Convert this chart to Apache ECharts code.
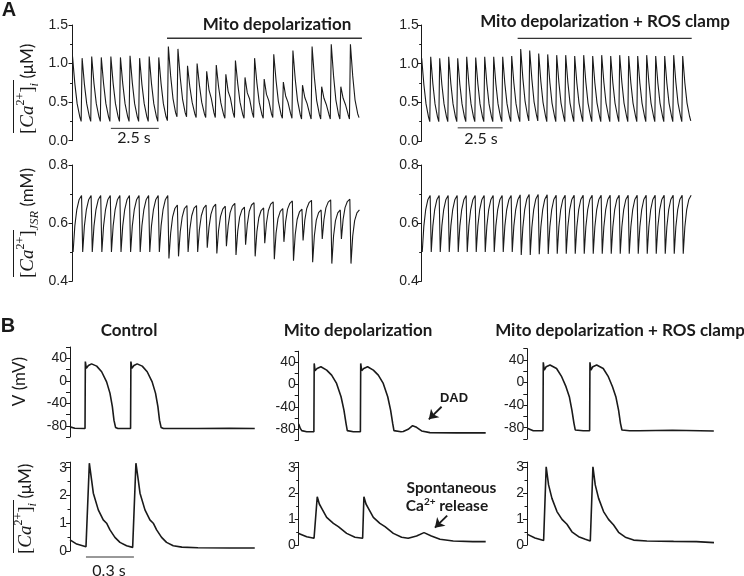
<!DOCTYPE html>
<html><head><meta charset="utf-8">
<script src="https://cdn.jsdelivr.net/npm/echarts@6/dist/echarts.min.js"></script>
<style>html,body{margin:0;padding:0;background:#fff}#c{width:744px;height:576px}</style>
</head><body><div id="c"></div>
<script>
// ---------------- Panel A data (2 Hz pacing, one row per beat) ----------------
const beatPeriod = 0.5;                       // s
const caOffsets  = [0, 0.12, 0.24, 0.38, 0.45];   // sample times after each Ca peak (s)
const jsrOffsets = [0.03, 0.12, 0.22, 0.34, 0.47]; // sample times after each release (s)

// [Ca2+]i (uM): [peak, +0.12s, +0.24s, +0.38s, trough]
const caiMitoRows = [
  [1.09,0.74,0.48,0.31,0.25],[1.07,0.73,0.48,0.31,0.25],[1.09,0.74,0.48,0.31,0.25],
  [1.08,0.74,0.48,0.31,0.25],[1.09,0.74,0.48,0.31,0.25],[1.08,0.74,0.48,0.31,0.25],
  [1.10,0.75,0.48,0.31,0.25],[1.07,0.73,0.48,0.31,0.25],[1.09,0.74,0.48,0.31,0.25],
  [1.08,0.74,0.48,0.31,0.26],
  [1.22,0.84,0.55,0.36,0.31],[1.19,0.82,0.54,0.36,0.31],[0.97,0.70,0.50,0.35,0.30],
  [1.00,0.72,0.50,0.35,0.30],[0.90,0.66,0.55,0.36,0.30],[0.98,0.70,0.49,0.34,0.29],
  [0.86,0.64,0.55,0.36,0.30],[1.04,0.74,0.50,0.34,0.29],[0.82,0.62,0.54,0.36,0.30],
  [1.07,0.75,0.50,0.34,0.29],[0.80,0.60,0.52,0.35,0.30],[1.12,0.78,0.51,0.34,0.29],
  [0.76,0.58,0.50,0.35,0.29],[1.17,0.80,0.52,0.34,0.28],[0.72,0.56,0.48,0.34,0.28],
  [1.22,0.82,0.52,0.34,0.28],[0.70,0.55,0.47,0.34,0.28],[1.25,0.84,0.53,0.34,0.28],
  [0.70,0.55,0.47,0.34,0.28],[1.25,0.84,0.53,0.35,0.30]
];
const caiRosRows = [
  [1.07,0.73,0.48,0.31,0.25],[1.09,0.74,0.48,0.31,0.25],[1.07,0.73,0.48,0.31,0.25],
  [1.09,0.74,0.48,0.31,0.25],[1.07,0.73,0.48,0.31,0.25],[1.09,0.74,0.48,0.31,0.25],
  [1.08,0.74,0.48,0.31,0.25],[1.09,0.74,0.48,0.31,0.25],[1.09,0.74,0.48,0.31,0.25],
  [1.09,0.74,0.48,0.31,0.25],[1.10,0.75,0.48,0.31,0.25],
  [1.19,0.81,0.52,0.33,0.26],[1.17,0.80,0.51,0.33,0.26],[1.13,0.77,0.50,0.32,0.25],
  [1.12,0.76,0.49,0.32,0.25],[1.11,0.76,0.49,0.32,0.25],[1.11,0.76,0.49,0.32,0.25],
  [1.10,0.75,0.49,0.32,0.25],[1.11,0.76,0.49,0.32,0.25],[1.10,0.75,0.49,0.32,0.25],
  [1.11,0.76,0.49,0.32,0.25],[1.10,0.75,0.49,0.32,0.25],[1.11,0.76,0.49,0.32,0.25],
  [1.10,0.75,0.49,0.32,0.25],[1.10,0.75,0.49,0.32,0.25],[1.11,0.76,0.49,0.32,0.25],
  [1.10,0.75,0.49,0.32,0.25],[1.10,0.75,0.49,0.32,0.25],[1.11,0.76,0.49,0.32,0.25],
  [1.10,0.75,0.49,0.32,0.26]
];
// [Ca2+]JSR (mM): [min, +0.12s, +0.22s, +0.34s, max before next release]
const jsrMitoRows = [
  [0.50,0.59,0.645,0.68,0.695],[0.50,0.59,0.645,0.68,0.695],[0.50,0.59,0.645,0.68,0.695],
  [0.50,0.59,0.645,0.68,0.695],[0.50,0.59,0.645,0.68,0.695],[0.50,0.59,0.645,0.68,0.695],
  [0.50,0.59,0.645,0.68,0.695],[0.50,0.59,0.645,0.68,0.695],[0.50,0.59,0.645,0.68,0.695],
  [0.50,0.59,0.645,0.68,0.695],
  [0.478,0.565,0.62,0.65,0.662],[0.485,0.57,0.62,0.65,0.66],[0.50,0.578,0.625,0.651,0.66],
  [0.50,0.578,0.625,0.651,0.662],[0.515,0.585,0.63,0.655,0.665],[0.495,0.575,0.622,0.648,0.658],
  [0.52,0.59,0.635,0.658,0.668],[0.49,0.572,0.62,0.645,0.655],[0.525,0.595,0.64,0.662,0.67],
  [0.485,0.57,0.618,0.643,0.652],[0.53,0.60,0.643,0.665,0.673],[0.475,0.565,0.615,0.64,0.65],
  [0.535,0.605,0.648,0.668,0.676],[0.47,0.56,0.612,0.638,0.648],[0.54,0.61,0.65,0.67,0.678],
  [0.465,0.557,0.61,0.636,0.645],[0.545,0.612,0.652,0.672,0.68],[0.46,0.555,0.608,0.635,0.645],
  [0.545,0.613,0.653,0.674,0.682],[0.46,0.555,0.608,0.635,0.645]
];
const jsrRosRows = [
  [0.50,0.59,0.645,0.68,0.695],[0.50,0.59,0.645,0.68,0.695],[0.50,0.59,0.645,0.68,0.695],
  [0.50,0.59,0.645,0.68,0.695],[0.50,0.59,0.645,0.68,0.695],[0.50,0.59,0.645,0.68,0.695],
  [0.50,0.59,0.645,0.68,0.695],[0.50,0.59,0.645,0.68,0.695],[0.50,0.59,0.645,0.68,0.695],
  [0.50,0.59,0.645,0.68,0.695],[0.50,0.59,0.645,0.68,0.697],
  [0.49,0.585,0.645,0.683,0.698],[0.49,0.585,0.645,0.683,0.698],[0.492,0.586,0.645,0.682,0.697],
  [0.493,0.587,0.645,0.681,0.696],[0.494,0.587,0.645,0.681,0.696],[0.494,0.587,0.645,0.681,0.696],
  [0.494,0.587,0.645,0.681,0.696],[0.494,0.587,0.645,0.681,0.696],[0.494,0.587,0.645,0.681,0.696],
  [0.494,0.587,0.645,0.681,0.696],[0.494,0.587,0.645,0.681,0.696],[0.494,0.587,0.645,0.681,0.696],
  [0.494,0.587,0.645,0.681,0.696],[0.494,0.587,0.645,0.681,0.696],[0.494,0.587,0.645,0.681,0.696],
  [0.494,0.587,0.645,0.681,0.696],[0.494,0.587,0.645,0.681,0.696],[0.494,0.587,0.645,0.681,0.696],
  [0.494,0.587,0.645,0.681,0.696]
];
const mitoBarLeft  = [4.93, 15.1];   // s, "Mito depolarization" period
const mitoBarRight = [5.33, 15.0];
const scaleBarA    = [2.0, 4.5];     // 2.5 s
const scaleBarB    = [0.1, 0.4];     // 0.3 s

// ---------------- Panel B data: [t (s), value] ----------------
const ctrlV = [[0,-82],[0.03,-84.5],[0.094,-85],[0.096,34],[0.102,22],[0.115,27],[0.135,30],[0.167,26],[0.198,16],[0.229,-2],[0.25,-22],[0.265,-46],[0.275,-70],[0.285,-83],[0.3,-85],[0.379,-85],[0.381,34],[0.387,22],[0.4,27],[0.42,30],[0.452,26],[0.483,16],[0.514,-2],[0.535,-22],[0.55,-46],[0.56,-70],[0.57,-83],[0.585,-85],[0.8,-84.8],[1.0,-84.5],[1.156,-85]];
const mitoV = [[0,-71],[0.01,-79],[0.019,-83],[0.05,-85],[0.095,-85],[0.097,38],[0.102,25],[0.115,29],[0.139,32],[0.175,26],[0.206,17],[0.237,2],[0.265,-22],[0.283,-46],[0.296,-70],[0.304,-83],[0.342,-85],[0.386,-85],[0.388,38],[0.394,25],[0.407,29],[0.431,32],[0.467,26],[0.498,17],[0.529,2],[0.557,-22],[0.575,-46],[0.588,-70],[0.596,-83],[0.64,-85],[0.654,-84.5],[0.685,-80.5],[0.7125,-74],[0.7375,-77],[0.769,-83.5],[0.821,-86.5],[0.988,-87],[1.17,-87]];
const rosV = [[0,-81],[0.0375,-85.5],[0.098,-85.5],[0.1,36],[0.106,22],[0.118,28],[0.142,31],[0.183,25],[0.215,10.4],[0.242,-7.3],[0.263,-25],[0.279,-48.7],[0.292,-72.3],[0.3,-84],[0.35,-85.5],[0.39,-85.5],[0.392,36],[0.398,22],[0.41,28],[0.434,31],[0.475,25],[0.507,10.4],[0.533,-7.3],[0.554,-25],[0.571,-48.7],[0.583,-72.3],[0.592,-84],[0.64,-85.5],[0.7,-85.5],[0.908,-84.5],[1.167,-85.8]];
const ctrlCa = [[0,0.40],[0.042,0.25],[0.1,0.155],[0.121,3.16],[0.135,2.56],[0.146,2.08],[0.177,1.48],[0.208,1.12],[0.229,1.0],[0.25,0.76],[0.281,0.49],[0.3125,0.31],[0.354,0.19],[0.392,0.13],[0.4125,3.16],[0.427,2.56],[0.438,2.08],[0.469,1.48],[0.5,1.12],[0.521,1.0],[0.542,0.76],[0.573,0.49],[0.604,0.31],[0.646,0.19],[0.7,0.14],[0.8,0.115],[1.0,0.11],[1.156,0.11]];
const mitoCa = [[0,0.45],[0.05,0.32],[0.096,0.26],[0.116,1.87],[0.129,1.59],[0.144,1.42],[0.175,1.07],[0.217,0.84],[0.248,0.71],[0.3,0.45],[0.352,0.3],[0.4,0.26],[0.408,1.87],[0.421,1.59],[0.436,1.42],[0.467,1.07],[0.508,0.84],[0.54,0.71],[0.592,0.45],[0.644,0.3],[0.685,0.26],[0.7375,0.35],[0.784,0.48],[0.83,0.35],[0.884,0.22],[0.967,0.155],[1.09,0.13],[1.17,0.13]];
const rosCa = [[0,0.42],[0.05,0.27],[0.104,0.17],[0.12,3.02],[0.135,2.32],[0.156,1.8],[0.1875,1.29],[0.219,0.99],[0.25,0.8],[0.281,0.51],[0.323,0.32],[0.365,0.22],[0.396,0.155],[0.4125,3.02],[0.427,2.32],[0.448,1.8],[0.479,1.29],[0.51,0.99],[0.542,0.77],[0.573,0.49],[0.615,0.3],[0.667,0.19],[0.75,0.155],[0.917,0.14],[1.06,0.13],[1.17,0.09]];
const dadArrow  = [[0.894,-40],[0.814,-62.6]];
const sponArrow = [[0.929,1.137],[0.852,0.671]];

// ---------------- build ----------------
function beatsToPoints(rows, offsets) {
  const pts = [];
  rows.forEach((row, k) => row.forEach((v, j) => pts.push([k * beatPeriod + offsets[j], v])));
  return pts;
}
const INK = '#1a1a1a';
const grids = [
  {left:71,    top:25,    width:289, height:115.7},
  {left:421.7, top:25,    width:270, height:116},
  {left:71,    top:165,   width:289, height:116},
  {left:421.7, top:165,   width:270, height:116},
  {left:70,    top:347,   width:187, height:90},
  {left:298.7, top:351.2, width:187, height:88.9},
  {left:527.3, top:348.7, width:187, height:90.3},
  {left:70,    top:462.1, width:187, height:88.9},
  {left:298.7, top:462.5, width:187, height:82.5},
  {left:527,   top:462.1, width:187, height:82.9}
].map(g => Object.assign({outerBoundsMode:'none', containLabel:false}, g));

const xRanges = [[-0.08,15],[0,15],[-0.08,15],[0,15],[0,1.17],[0,1.17],[0,1.17],[0,1.17],[0,1.17],[0,1.17]];
const xAxes = xRanges.map((r,i) => ({type:'value', gridIndex:i, min:r[0], max:r[1], show:false}));

function yAx(i, min, max, interval, fmt, minor) {
  return {
    type:'value', gridIndex:i, min, max, interval,
    axisLine:{show:true, lineStyle:{color:INK, width:1}},
    axisTick:{show:true, length:4, lineStyle:{color:INK, width:1}},
    minorTick: minor ? {show:true, splitNumber:2, length:2.5, lineStyle:{color:INK, width:1}} : {show:false},
    splitLine:{show:false}, minorSplitLine:{show:false},
    axisLabel:{color:'#222', fontFamily:'Liberation Sans', fontSize:14, margin:3, formatter:fmt}
  };
}
const f1 = v => v.toFixed(1);
const fV = v => (Math.round(v) % 40 === 0 ? String(Math.round(v)) : '');
const fI = v => String(Math.round(v));
const yAxes = [
  yAx(0, 0, 1.5, 0.5, f1, true), yAx(1, 0, 1.5, 0.5, f1, true),
  yAx(2, 0.4, 0.8, 0.2, f1, true), yAx(3, 0.4, 0.8, 0.2, f1, true),
  yAx(4, -100, 60, 20, fV, false), yAx(5, -100, 60, 20, fV, false), yAx(6, -100, 60, 20, fV, false),
  yAx(7, 0, 3.2, 1, fI, true), yAx(8, 0, 3.2, 1, fI, true), yAx(9, 0, 3.2, 1, fI, true)
];

function trace(i, data, w) {
  return {type:'line', xAxisIndex:i, yAxisIndex:i, data, showSymbol:false, symbol:'none',
    lineStyle:{color:INK, width:w}, silent:true, animation:false, clip:false, z:3};
}
function bar(i, xs, y, w) {
  return {type:'line', xAxisIndex:i, yAxisIndex:i, data:[[xs[0], y],[xs[1], y]], showSymbol:false,
    symbol:'none', lineStyle:{color:'#333', width:w}, silent:true, animation:false, clip:false};
}
function arrow(pts) {
  return {silent:true, symbol:['none','arrow'], symbolSize:9, animation:false,
    lineStyle:{type:'solid', color:INK, width:1.8}, label:{show:false},
    data:[[{coord:pts[0]},{coord:pts[1]}]]};
}

const series = [
  trace(0, beatsToPoints(caiMitoRows, caOffsets), 1.1),
  trace(1, beatsToPoints(caiRosRows, caOffsets), 1.1),
  trace(2, beatsToPoints(jsrMitoRows, jsrOffsets), 1.1),
  trace(3, beatsToPoints(jsrRosRows, jsrOffsets), 1.1),
  bar(0, mitoBarLeft, 1.328, 1.3), bar(1, mitoBarRight, 1.328, 1.3),
  bar(0, scaleBarA, 0.16, 1), bar(1, scaleBarA, 0.17, 1),
  trace(4, ctrlV, 1.6),
  Object.assign(trace(5, mitoV, 1.6), {markLine: arrow(dadArrow)}),
  trace(6, rosV, 1.6),
  trace(7, ctrlCa, 1.6),
  Object.assign(trace(8, mitoCa, 1.6), {markLine: arrow(sponArrow)}),
  trace(9, rosCa, 1.6),
  bar(7, scaleBarB, -0.216, 1)
];

// ---------------- text ----------------
const SER = 'Liberation Serif', SAN = 'Lato';
function richY() {
  return {
    br:{fontFamily:SER, fontSize:19, lineHeight:26, fill:INK},
    it:{fontFamily:SER, fontStyle:'italic', fontSize:19, lineHeight:26, fill:INK},
    sup:{fontFamily:SER, fontSize:12, lineHeight:15, verticalAlign:'top', fill:INK},
    sub:{fontFamily:SER, fontStyle:'italic', fontSize:12.5, lineHeight:12, verticalAlign:'bottom', fill:INK},
    u:{fontFamily:SAN, fontSize:17, lineHeight:26, fill:INK}
  };
}
function vTitle(x, y, text) {
  return {type:'text', x, y, rotation:Math.PI/2, silent:true,
    style:{text, rich:richY(), align:'left', verticalAlign:'middle', fill:INK}};
}
function hText(x, y, text, size, weight, family) {
  return {type:'text', x, y, silent:true,
    style:{text, fontSize:size, fontWeight:weight||'normal', fontFamily:family||SAN,
      align:'center', verticalAlign:'middle', fill:INK}};
}
function oline(x, y1, y2) {
  return {type:'line', silent:true, shape:{x1:x, y1, x2:x, y2}, style:{stroke:INK, lineWidth:1}};
}
const graphic = [
  hText(9, 10, 'A', 20, 'bold', 'Liberation Sans'),
  hText(8, 326, 'B', 20, 'bold', 'Liberation Sans'),
  hText(277, 25, 'Mito depolarization', 17, 'bold'),
  hText(605, 22, 'Mito depolarization + ROS clamp', 17, 'bold'),
  hText(134, 137.5, '2.5 s', 16),
  hText(481, 139, '2.5 s', 16),
  hText(129, 331, 'Control', 17, 'bold'),
  hText(358, 331, 'Mito depolarization', 17, 'bold'),
  hText(620, 331, 'Mito depolarization + ROS clamp', 17, 'bold'),
  hText(454, 398.5, 'DAD', 13, 'bold', 'Liberation Sans'),
  hText(451.5, 488, 'Spontaneous', 15.5, 'bold'),
  {type:'text', x:447, y:506, silent:true, style:{text:'{b|Ca}{s|2+}{b| release}', align:'center', verticalAlign:'middle', fill:INK,
    rich:{b:{fontFamily:SAN, fontWeight:'bold', fontSize:15.5, lineHeight:19, fill:INK},
          s:{fontFamily:SAN, fontWeight:'bold', fontSize:10, lineHeight:11, verticalAlign:'top', fill:INK}}}},
  hText(109, 571, '0.3 s', 16),
  vTitle(28, 134, '{br|[}{it|Ca}{sup|2+}{br|]}{sub|i}{u| (μM)}'),
  vTitle(28, 278, '{br|[}{it|Ca}{sup|2+}{br|]}{sub|JSR}{u| (mM)}'),
  {type:'text', x:20, y:381.5, rotation:Math.PI/2, silent:true,
    style:{text:'V (mV)', fontFamily:SAN, fontSize:17, align:'center', verticalAlign:'middle', fill:INK}},
  vTitle(26, 554, '{br|[}{it|Ca}{sup|2+}{br|]}{sub|i}{u| (μM)}'),
  oline(13.5, 80, 133), oline(13.5, 230, 277), oline(13.5, 500, 553)
];

const chart = echarts.init(document.getElementById('c'), null, {renderer:'canvas'});
chart.setOption({animation:false, backgroundColor:'#fff', grid:grids, xAxis:xAxes, yAxis:yAxes, series, graphic});
</script></body></html>
